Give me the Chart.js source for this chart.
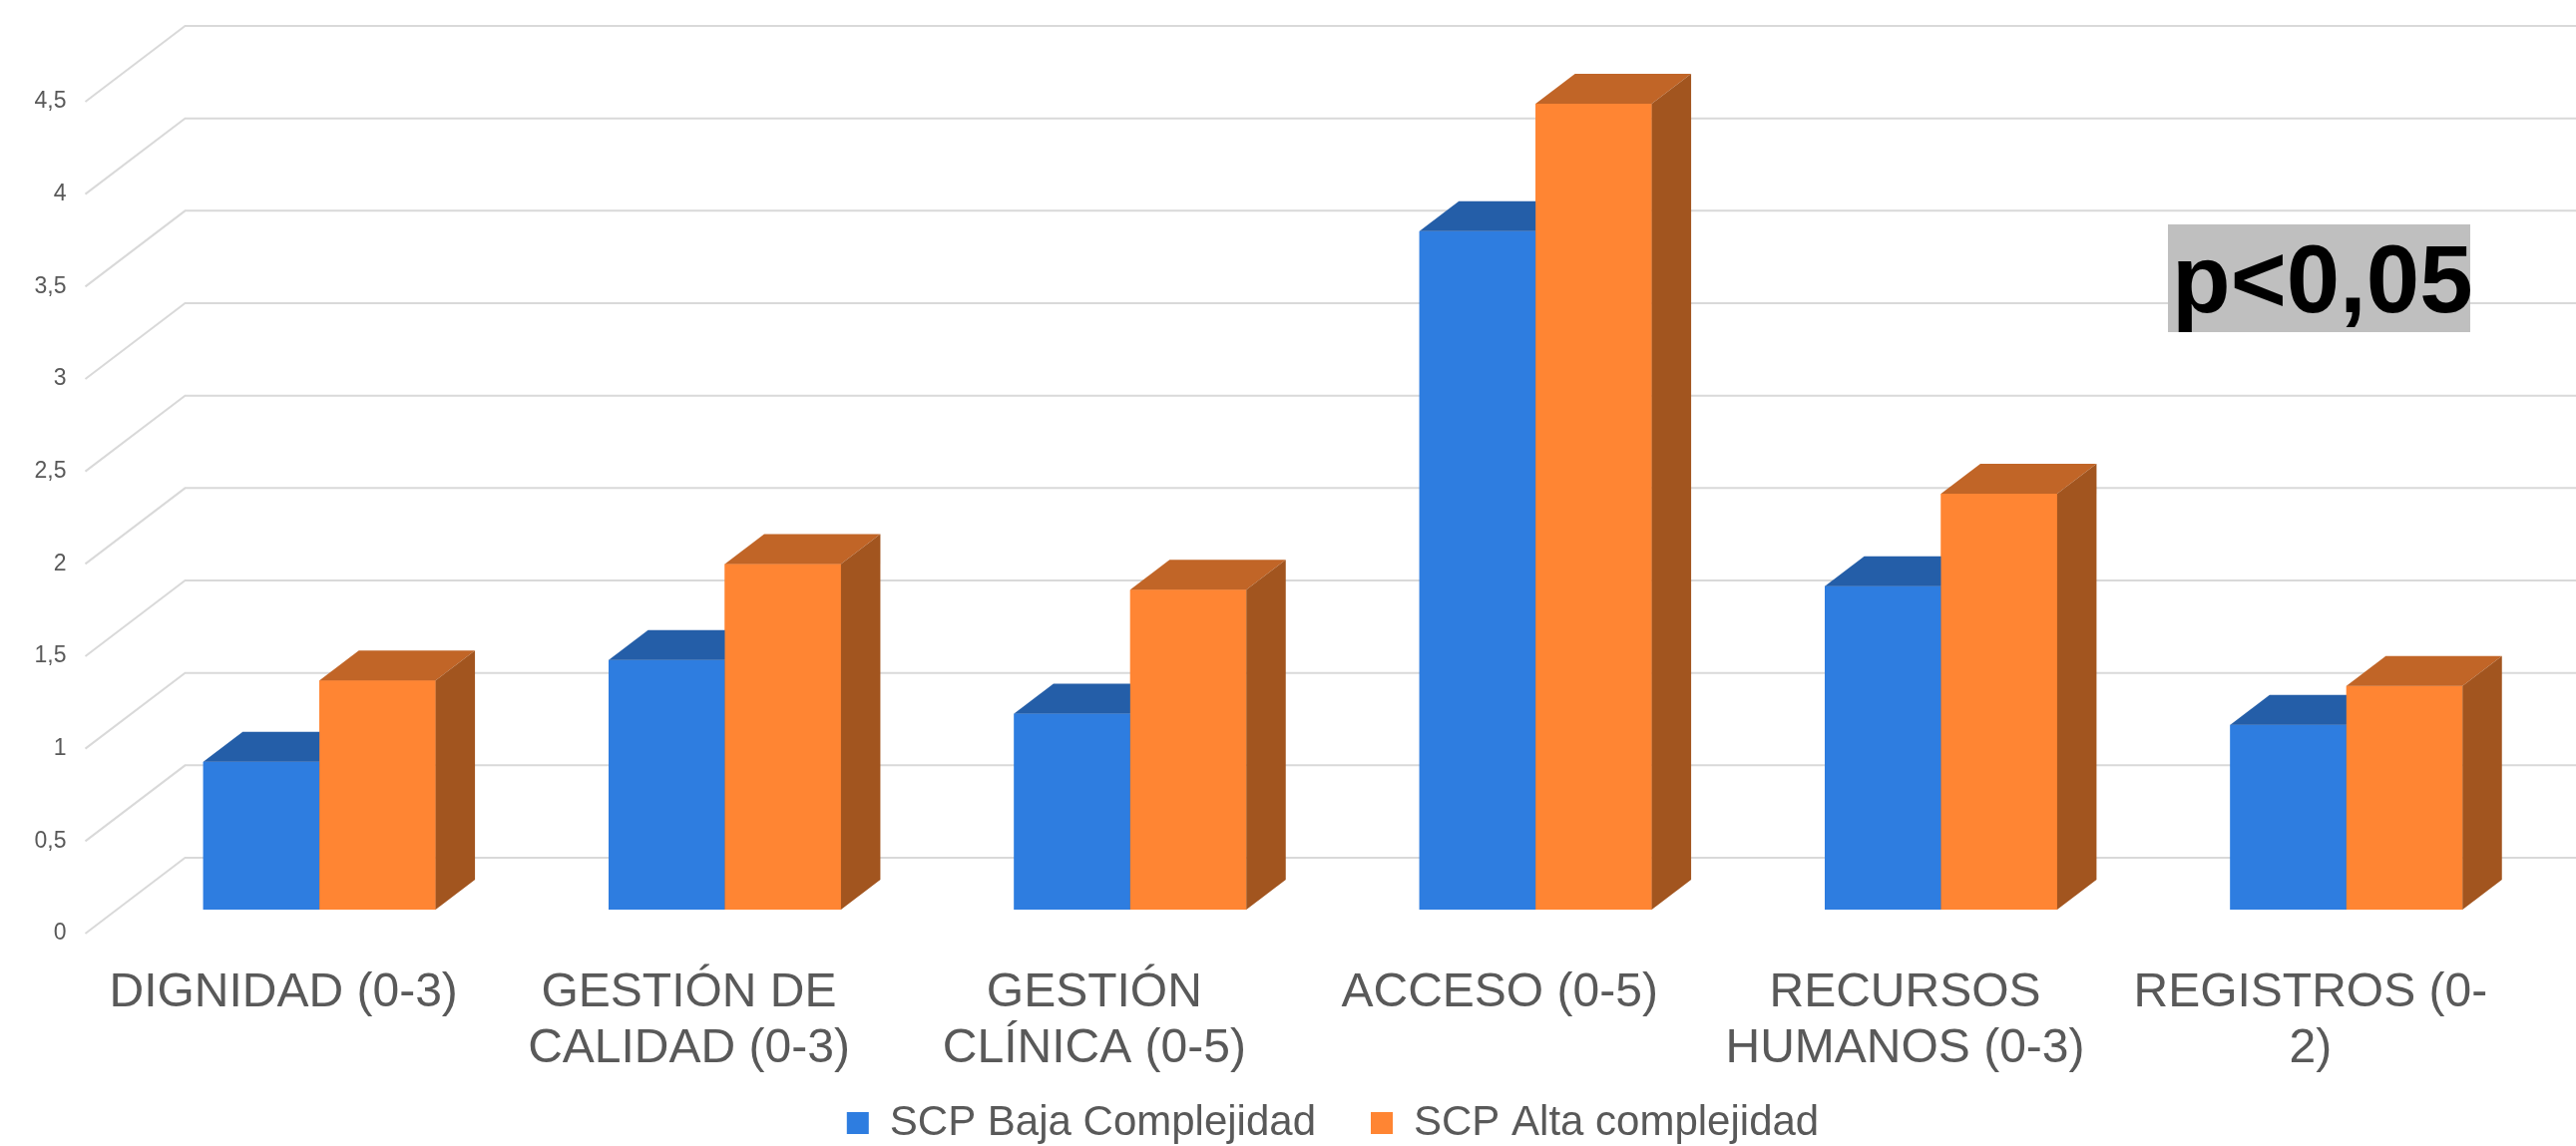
<!DOCTYPE html>
<html>
<head>
<meta charset="utf-8">
<script src="https://cdn.jsdelivr.net/npm/chart.js@4.4.0/dist/chart.umd.min.js"></script>
<style>
  html, body { margin: 0; padding: 0; background: #ffffff; }
  canvas { display: block; }
</style>
</head>
<body>
<canvas id="mycanvas" width="2582" height="1149"></canvas>
<script>
var categorias = [
	'DIGNIDAD (0-3)',
	['GESTIÓN DE', 'CALIDAD (0-3)'],
	['GESTIÓN', 'CLÍNICA (0-5)'],
	'ACCESO (0-5)',
	['RECURSOS', 'HUMANOS (0-3)'],
	['REGISTROS (0-', '2)']
];
var bajaComplejidad = [0.80, 1.35, 1.06, 3.67, 1.75, 1.00];
var altaComplejidad = [1.24, 1.87, 1.73, 4.36, 2.25, 1.21];
var ticksY = [0, 0.5, 1, 1.5, 2, 2.5, 3, 3.5, 4, 4.5];
var nombres = ['SCP Baja Complejidad', 'SCP Alta complejidad'];
var nota = 'p<0,05';

// colores: frente, tapa, lateral
var caras = [
	{ frente: '#2e7de0', tapa: '#245ea8', lado: '#1d4f8f' },
	{ frente: '#ff8533', tapa: '#c16527', lado: '#a2551f' }
];

var FUENTE = '"Liberation Sans", Arial, sans-serif';
// desplazamientos de perspectiva
var PISO = { dx: -31.5, dy: 24 };
var PARED = { dx: 68.5, dy: -52 };
var PROF = { dx: 39.5, dy: -30 };

var efecto3D = {
	id: 'efecto3D',
	beforeDatasetsDraw: function(chart) {
		var ctx = chart.ctx, area = chart.chartArea, y = chart.scales.y;
		ctx.save();
		ctx.strokeStyle = '#d9d9d9';
		ctx.lineWidth = 2;
		ctx.fillStyle = '#595959';
		ctx.font = '23px ' + FUENTE;
		ctx.textAlign = 'right';
		ctx.textBaseline = 'middle';
		ticksY.forEach(function(v) {
			var py = y.getPixelForValue(v);
			ctx.beginPath();
			ctx.moveTo(area.left + PISO.dx, py + PISO.dy);
			ctx.lineTo(area.left + PARED.dx, py + PARED.dy);
			ctx.lineTo(chart.width, py + PARED.dy);
			ctx.stroke();
			ctx.fillText(String(v).replace('.', ','), area.left + PISO.dx - 19, py + PISO.dy);
		});
		ctx.restore();
	},
	afterDatasetsDraw: function(chart) {
		var ctx = chart.ctx;
		ctx.save();
		for (var i = 0; i < categorias.length; i++) {
			for (var d = 0; d < chart.data.datasets.length; d++) {
				var el = chart.getDatasetMeta(d).data[i];
				var izq = el.x - el.width / 2, der = el.x + el.width / 2;
				var arriba = el.y, base = el.base;
				var c = caras[d];

				ctx.fillStyle = c.frente;
				ctx.fillRect(izq, arriba, der - izq, base - arriba);

				ctx.fillStyle = c.tapa;
				ctx.beginPath();
				ctx.moveTo(izq, arriba);
				ctx.lineTo(izq + PROF.dx, arriba + PROF.dy);
				ctx.lineTo(der + PROF.dx, arriba + PROF.dy);
				ctx.lineTo(der, arriba);
				ctx.closePath();
				ctx.fill();

				ctx.fillStyle = c.lado;
				ctx.beginPath();
				ctx.moveTo(der, arriba);
				ctx.lineTo(der + PROF.dx, arriba + PROF.dy);
				ctx.lineTo(der + PROF.dx, base + PROF.dy);
				ctx.lineTo(der, base);
				ctx.closePath();
				ctx.fill();
			}
		}
		ctx.restore();
	},
	afterDraw: function(chart) {
		var ctx = chart.ctx, area = chart.chartArea, x = chart.scales.x;
		ctx.save();
		// etiquetas de categoria sobre el borde del piso
		ctx.fillStyle = '#595959';
		ctx.font = '48px ' + FUENTE;
		ctx.textAlign = 'center';
		ctx.textBaseline = 'alphabetic';
		categorias.forEach(function(lab, i) {
			var lineas = Array.isArray(lab) ? lab : [lab];
			var px = x.getPixelForValue(i) - 36;
			lineas.forEach(function(t, k) {
				ctx.fillText(t, px, area.bottom + 97 + k * 56);
			});
		});

		// recuadro de significancia
		ctx.fillStyle = '#bfbfbf';
		ctx.fillRect(2173, 225, 303, 108);
		ctx.fillStyle = '#000000';
		ctx.font = 'bold 96px ' + FUENTE;
		ctx.textAlign = 'left';
		ctx.fillText(nota, 2177, 313);
		ctx.restore();
	}
};

var ctx = document.getElementById('mycanvas');

var barChart = new Chart(ctx, {
	type: 'bar',
	data: {
		labels: categorias,
		datasets: [
			{
				label: nombres[0],
				data: bajaComplejidad,
				backgroundColor: caras[0].frente,
				borderWidth: 0,
				categoryPercentage: 0.573,
				barPercentage: 1
			},
			{
				label: nombres[1],
				data: altaComplejidad,
				backgroundColor: caras[1].frente,
				borderWidth: 0,
				categoryPercentage: 0.573,
				barPercentage: 1
			}
		]
	},
	options: {
		responsive: false,
		animation: false,
		devicePixelRatio: 1,
		layout: {
			padding: { left: 117, right: 27, top: 78, bottom: -8 }
		},
		scales: {
			x: {
				grid: { display: false },
				border: { display: false },
				ticks: { display: false },
				afterFit: function(scale) { scale.height = 138; }
			},
			y: {
				display: false,
				min: 0,
				max: 4.5
			}
		},
		plugins: {
			tooltip: { enabled: false },
			legend: {
				position: 'bottom',
				fullSize: false,
				labels: {
					boxWidth: 22,
					boxHeight: 22,
					padding: 55,
					color: '#595959',
					font: { family: FUENTE, size: 42 }
				}
			}
		}
	},
	plugins: [efecto3D]
});
</script>
</body>
</html>
